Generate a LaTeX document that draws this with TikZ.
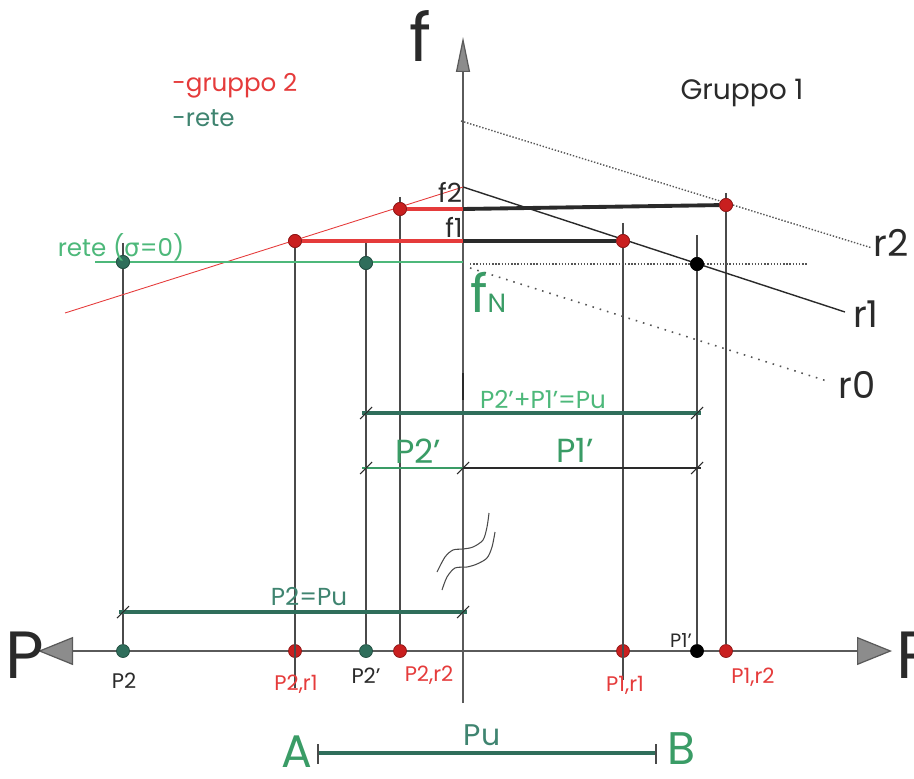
\documentclass[tikz,border=0pt]{standalone}
\usepackage{fontspec}
\setmainfont{Poppins}
\newfontfamily\greekfont{DejaVu Sans}
\usetikzlibrary{arrows.meta, calc}
\definecolor{ink}{HTML}{2A2A2A}
\definecolor{axisgray}{HTML}{5A5A5A}
\definecolor{tipfill}{HTML}{8C8C8C}
\definecolor{grp}{HTML}{E53B3B}
\definecolor{grpdot}{HTML}{C91F1F}
\definecolor{retelight}{HTML}{4DB87A}
\definecolor{retemid}{HTML}{3A9C66}
\definecolor{retedark}{HTML}{2F6E5B}
\definecolor{reteteal}{HTML}{3F8470}
\tikzset{
  axis/.style       = {draw=axisgray, line width=0.7pt},
  proj/.style       = {draw=ink!85, line width=0.6pt},
  grpline/.style    = {draw=grp, line width=0.5pt},
  rline/.style      = {draw=ink, line width=0.8pt},
  denseline/.style  = {draw=ink!80, line width=0.8pt, dash pattern=on 0.8pt off 1pt},
  sparseline/.style = {draw=ink!80, line width=0.9pt, dash pattern=on 0.9pt off 3.4pt},
  reteline/.style   = {draw=retelight, line width=0.7pt},
  redbar/.style     = {draw=grp, line width=2.2pt},
  blackbar/.style   = {draw=ink, line width=2.2pt},
  dimbar/.style     = {draw=retedark, line width=2.2pt, shorten <=-0.8mm, shorten >=-0.8mm},
  dimthin/.style    = {line width=0.6pt, shorten <=-0.8mm, shorten >=-0.8mm},
  tickmark/.style   = {draw=ink, line width=0.6pt},
  spot/.style       = {circle, inner sep=0pt, minimum size=2.6mm, line width=0.4pt},
  rdot/.style       = {spot, fill=grpdot, draw=grpdot!70!black},
  gdot/.style       = {spot, fill=retedark, draw=retedark!70!black},
  kdot/.style       = {spot, fill=black, draw=black},
  lbl/.style        = {inner sep=0pt, text=ink, font=\fontsize{12}{14}\selectfont},
  lblred/.style     = {lbl, text=grp},
  axlbl/.style      = {inner sep=0pt, text=ink, font=\fontsize{38}{40}\selectfont},
  rlbl/.style       = {inner sep=0pt, text=ink, font=\fontsize{21}{23}\selectfont},
  dimlbl/.style     = {inner sep=0pt, font=\fontsize{14}{16}\selectfont},
}

\begin{document}
\begin{tikzpicture}[x=0.2mm, y=-0.2mm]
  \useasboundingbox (0,0) rectangle (914,778);

  % axes
  \coordinate (O) at (463,651);
  \coordinate (ftop) at (463,37);
  \coordinate (fbot) at (463,703);
  \coordinate (Pl) at (38,651);
  \coordinate (Pr) at (892,651);
  \draw[axis, -{Triangle[length=7mm, width=2.8mm, fill=tipfill]}] (fbot) -- (ftop);
  \draw[axis, {Triangle[length=7mm, width=5.6mm, fill=tipfill]}-{Triangle[length=7mm, width=5.6mm, fill=tipfill]}] (Pl) -- (Pr);
  \draw[ink, line width=1.3pt] ($(O)+(0,-278)$) -- ($(O)+(0,-251)$);
  \node[axlbl] (flab) at (420,36) {f};
  \node[axlbl] (Plab) at (25,655) {P};
  \node[axlbl, anchor=west] (Plab2) at (896,655) {P};

  % points on the curves
  \node[rdot] (a2r1) at (295,241) {};
  \node[rdot] (a2r2) at (400,209) {};
  \node[rdot] (a1r1) at (623,241) {};
  \node[rdot] (a1r2) at (726,205) {};
  \node[gdot] (a2) at (123,262) {};
  \node[gdot] (a2p) at (366,263) {};
  \node[kdot] (a1p) at (697,264) {};
  \node[gdot] (b2) at (123,651) {};
  \node[rdot] (b2r1) at (295,651) {};
  \node[gdot] (b2p) at (366,651) {};
  \node[rdot] (b2r2) at (400,651) {};
  \node[rdot] (b1r1) at (623,651) {};
  \node[kdot] (b1p) at (697,651) {};
  \node[rdot] (b1r2) at (726,651) {};

  % projections
  \draw[proj] ($(a2)+(0,-19)$) -- (b2);
  \draw[proj] (a2r1) -- ($(b2r1)+(0,37)$);
  \draw[proj] ($(a2p)+(0,-20)$) -- (b2p);
  \draw[proj] ($(a2r2)+(0,-12)$) -- (b2r2);
  \draw[proj] ($(a1r1)+(0,-18)$) -- ($(b1r1)+(0,29)$);
  \draw[proj] ($(a1p)+(0,-29)$) -- (b1p);
  \draw[proj] ($(a1r2)+(0,-12)$) -- (b1r2);

  % characteristic lines
  \coordinate (g2a) at (65,313);
  \coordinate (g2b) at (463,187);
  \coordinate (r1end) at (845,312);
  \coordinate (r2a) at (461,121);
  \coordinate (r2end) at (872,248);
  \coordinate (r0a) at (470,268);
  \coordinate (r0end) at (830,382);
  \coordinate (hNa) at (470,264);
  \coordinate (hNb) at (808,264);
  \coordinate (reta) at (95,262);
  \coordinate (fN) at (463,262);
  \coordinate (f1) at (463,241);
  \coordinate (f2) at (463,209);
  \draw[grpline] (g2a) -- (g2b);
  \draw[rline] (g2b) -- (r1end);
  \draw[denseline] (r2a) -- (r2end);
  \draw[sparseline] (r0a) -- (r0end);
  \draw[denseline] (hNa) -- (hNb);
  \draw[reteline] (reta) -- (fN);

  \draw[redbar] (a2r1) -- (f1);
  \draw[blackbar] (f1) -- (a1r1);
  \draw[redbar] (a2r2) -- (f2);
  \draw[blackbar] (f2) -- (a1r2);

  % redraw the points over the lines
  \node[rdot] at (a2r1) {};
  \node[rdot] at (a2r2) {};
  \node[rdot] at (a1r1) {};
  \node[rdot] at (a1r2) {};
  \node[gdot] at (a2) {};
  \node[gdot] at (a2p) {};
  \node[kdot] at (a1p) {};

  % dimensions
  \coordinate (k1) at (366,413);
  \coordinate (k2) at (697,413);
  \coordinate (k3) at (366,468);
  \coordinate (k4) at (463,468);
  \coordinate (k5) at (697,468);
  \coordinate (k6) at (123,612);
  \coordinate (k7) at (463,612);
  \draw[dimbar] (k1) -- (k2);
  \draw[dimthin, draw=retemid, shorten >=0pt] (k3) -- (k4);
  \draw[dimthin, draw=ink, shorten <=0pt] (k4) -- (k5);
  \draw[dimbar] (k6) -- (k7);
  \foreach \k in {k1,k2,k3,k4,k5,k6,k7}
    \draw[tickmark] ($(\k)+(-6,6)$) -- ($(\k)+(6,-6)$);

  % break of the f axis
  \draw[proj] plot[smooth] coordinates {(437,572) (445,557) (453,550) (463,549) (473,547) (483,540) (487,527) (489,513)};
  \draw[proj] plot[smooth] coordinates {(442,590) (447,577) (455,568) (467,567) (477,564) (487,558) (492,547) (495,532)};

  % labels
  \node[lbl, font=\fontsize{16}{18}\selectfont] (g1) at (742,93) {Gruppo 1};
  \node[lblred, anchor=west, font=\fontsize{14}{16}\selectfont] (g2) at (172,86) {-gruppo 2};
  \node[lbl, text=reteteal, anchor=west, font=\fontsize{14}{16}\selectfont] (rt) at (172,118) {-rete};
  \node[lbl, text=retelight, font=\fontsize{14}{16}\selectfont] (rs) at (121,247) {rete ({\greekfont σ}=0)};
  \node[lbl, font=\fontsize{15}{17}\selectfont] (lf2) at (450,192) {f2};
  \node[lbl, font=\fontsize{15}{17}\selectfont] (lf1) at (454,227) {f1};
  \node[lbl, text=retemid, anchor=base west] (lfN) at (470,313) {{\fontsize{30}{30}\selectfont f}{\fontsize{15}{15}\selectfont N}};
  \node[rlbl] (lr2) at (891,243) {r2};
  \node[rlbl] (lr1) at (866,314) {r1};
  \node[rlbl] (lr0) at (857,385) {r0};

  \node[dimlbl, text=retelight] (lsum) at (543,400) {P2'+P1'=Pu};
  \node[dimlbl, text=retemid, font=\fontsize{19}{21}\selectfont] (lP2d) at (418,451) {P2'};
  \node[dimlbl, text=retemid, font=\fontsize{19}{21}\selectfont] (lP1d) at (575,450) {P1'};
  \node[dimlbl, text=reteteal] (lP2u) at (309,597) {P2=Pu};

  \node[lbl] (lP2) at (124,681) {P2};
  \node[lblred] (lP2r1) at (296,684) {P2,r1};
  \node[lbl] (lP2p) at (366,676) {P2'};
  \node[lblred] (lP2r2) at (429,675) {P2,r2};
  \node[lblred] (lP1r1) at (625,685) {P1,r1};
  \node[lbl, font=\fontsize{11}{13}\selectfont] (lP1p) at (681,641) {P1'};
  \node[lblred] (lP1r2) at (753,677) {P1,r2};

  % segment A-B
  \coordinate (ab1) at (318,753);
  \coordinate (ab2) at (656,753);
  \draw[draw=retedark, line width=2.2pt] (ab1) -- (ab2);
  \draw[proj] ($(ab1)+(0,-9)$) -- ($(ab1)+(0,11)$);
  \draw[proj] ($(ab2)+(0,-9)$) -- ($(ab2)+(0,11)$);
  \node[inner sep=0pt, text=retemid, font=\fontsize{26}{28}\selectfont] (A) at (297,752) {A};
  \node[inner sep=0pt, text=retemid, font=\fontsize{26}{28}\selectfont] (B) at (681,749) {B};
  \node[dimlbl, text=reteteal, font=\fontsize{17}{19}\selectfont] (lPu) at (482,735) {Pu};
\end{tikzpicture}
\end{document}
